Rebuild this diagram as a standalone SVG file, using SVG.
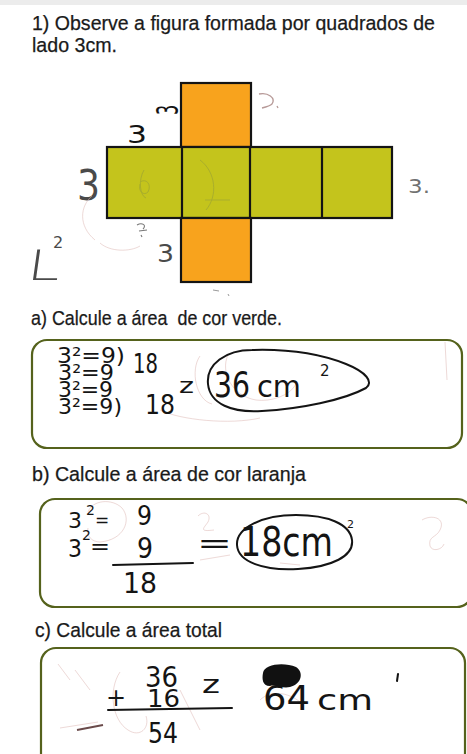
<svg xmlns="http://www.w3.org/2000/svg" width="467" height="754" viewBox="0 0 467 754">
<style>
.q{font-family:"Liberation Sans",Arial,sans-serif;font-size:20.5px;fill:#1a1a1a;stroke:#1a1a1a;stroke-width:0.25}
.h{font-family:"DejaVu Sans","Liberation Sans",sans-serif;fill:#141414}
.hg{font-family:"DejaVu Sans","Liberation Sans",sans-serif;fill:#4a4a4a}
.box{fill:#ffffff;stroke:#55621c;stroke-width:2.2}
.sq{stroke:#141414;stroke-width:2.2}
.or{fill:#f8a31d}
.gr{fill:#c4c41c}
.pk{fill:none;stroke:#dcb3b0;stroke-width:1;opacity:0.5}
.ink{fill:none;stroke:#141414;stroke-width:2;stroke-linecap:round}
</style>
<rect x="0" y="0" width="467" height="754" fill="#ffffff"/>
<rect x="0" y="0" width="467" height="5" fill="#ececec"/>

<g id="title">
<text class="q" x="32" y="30" textLength="403" lengthAdjust="spacingAndGlyphs">1) Observe a figura formada por quadrados de</text>
<text class="q" x="32" y="52" textLength="85" lengthAdjust="spacingAndGlyphs">lado 3cm.</text>
</g>

<g id="figure">
<rect class="sq or" x="181" y="83" width="70" height="64"/>
<rect class="sq gr" x="107" y="147" width="285" height="71"/>
<line class="sq" x1="182" y1="147" x2="182" y2="218"/>
<line class="sq" x1="250" y1="147" x2="250" y2="218"/>
<line class="sq" x1="322" y1="147" x2="322" y2="218"/>
<rect class="sq or" x="181" y="218" width="70" height="64"/>
<path d="M144 170 C138 180 140 196 146 198 M140 182 C146 178 152 184 148 192 C144 196 138 192 140 184" fill="none" stroke="#a9ae2c" stroke-width="1"/>
<path d="M200 160 C216 172 218 196 206 210 M205 200 L230 200" fill="none" stroke="#a9ae2c" stroke-width="1"/>
</g>

<g id="figure-notes">
<text class="h" font-size="20" text-anchor="middle" dominant-baseline="central" transform="translate(168 110) rotate(-90) scale(0.8 1.5)">3</text>
<text class="h" x="127" y="143" font-size="24" textLength="20" lengthAdjust="spacingAndGlyphs">3</text>
<text class="hg" x="77" y="200" font-size="43" textLength="23" lengthAdjust="spacingAndGlyphs">3</text>
<text class="hg" x="408" y="193" font-size="20" textLength="22" lengthAdjust="spacingAndGlyphs" fill-opacity="0.8">3.</text>
<text class="hg" x="157" y="262" font-size="24" textLength="17" lengthAdjust="spacingAndGlyphs">3</text>
<path d="M259 94 C268 92 276 98 272 104 C270 106 266 107 262 108 M277 106 L278 108" fill="none" stroke="#b79a98" stroke-width="1.3"/>
<path d="M137 225 C142 222 147 225 143 229 M139 231 L147 230 M141 235 L142 237" fill="none" stroke="#777" stroke-width="1.1"/>
<text class="hg" x="27" y="280" font-size="42" textLength="33" lengthAdjust="spacingAndGlyphs" font-weight="300" transform="skewX(-8) translate(38 0)">L</text>
<text class="hg" x="53" y="248" font-size="16">2</text>
<path d="M95 240 C78 226 80 206 92 196" class="pk"/>
<path d="M100 243 C110 252 130 252 140 246" class="pk"/>
<path d="M213 290 L219 291 M228 294 L229 296" fill="none" stroke="#999" stroke-width="1"/>
</g>

<g id="part-a">
<text class="q" x="31" y="325" textLength="251" lengthAdjust="spacingAndGlyphs" xml:space="preserve">a) Calcule a área  de cor verde.</text>
<rect class="box" x="32" y="340" width="430" height="108" rx="15"/>
<path d="M200 356 C190 370 196 400 212 404" class="pk"/>
<path d="M228 355 C220 372 232 396 256 400 C270 402 290 396 296 384" class="pk"/>
<path d="M160 410 C180 420 230 425 260 418" class="pk"/>
<path d="M445 342 L447 380" class="pk"/>
<text class="h" font-size="21"><tspan x="57" y="363" textLength="68" lengthAdjust="spacingAndGlyphs">3²=9)</tspan><tspan x="133" y="373" font-size="27" textLength="25" lengthAdjust="spacingAndGlyphs">18</tspan><tspan x="58" y="380" textLength="56" lengthAdjust="spacingAndGlyphs">3²=9</tspan><tspan x="58" y="397" textLength="55" lengthAdjust="spacingAndGlyphs">3²=9</tspan><tspan x="58" y="414" textLength="64" lengthAdjust="spacingAndGlyphs">3²=9)</tspan><tspan x="145" y="414" font-size="27" textLength="30" lengthAdjust="spacingAndGlyphs">18</tspan></text>
<text class="h" x="179" y="393" font-size="22" textLength="15" lengthAdjust="spacingAndGlyphs">z</text>
<path class="ink" d="M252 350 C226 350 206 364 208 384 C210 404 232 413 262 411 C300 409 344 400 366 388 C374 382 366 372 346 364 C318 353 284 349 252 350 Z"/>
<text class="h" font-size="36"><tspan x="214" y="397" textLength="36" lengthAdjust="spacingAndGlyphs">36</tspan><tspan x="257" y="397" font-size="30" textLength="44" lengthAdjust="spacingAndGlyphs">cm</tspan><tspan x="320" y="376" font-size="15">2</tspan></text>
</g>

<g id="part-b">
<text class="q" x="32" y="481" textLength="274" lengthAdjust="spacingAndGlyphs">b) Calcule a área de cor laranja</text>
<rect class="box" x="40" y="499" width="432" height="108" rx="15"/>
<path d="M88 512 C92 500 112 498 122 508 C132 520 124 540 100 542 C92 542 86 536 88 528" class="pk"/>
<path d="M198 516 C204 510 212 514 208 522 C204 528 198 532 214 530" class="pk"/>
<path d="M422 520 C432 514 446 518 440 530 C436 538 428 536 430 546 C432 552 442 550 444 544" class="pk"/>
<path d="M200 560 L230 555 M280 563 L300 565" class="pk"/>
<text class="h" font-size="21"><tspan x="68" y="528" textLength="14" lengthAdjust="spacingAndGlyphs">3</tspan><tspan x="86" y="515" font-size="14">2</tspan><tspan x="95" y="526" font-size="17">=</tspan><tspan x="137" y="525" font-size="26" textLength="15" lengthAdjust="spacingAndGlyphs">9</tspan><tspan x="68" y="557" font-size="24" textLength="14" lengthAdjust="spacingAndGlyphs">3</tspan><tspan x="82" y="540" font-size="14">2</tspan><tspan x="90" y="554" font-size="22" textLength="20" lengthAdjust="spacingAndGlyphs">=</tspan><tspan x="137" y="558" font-size="29" textLength="16" lengthAdjust="spacingAndGlyphs">9</tspan><tspan x="123" y="593" font-size="28" textLength="34" lengthAdjust="spacingAndGlyphs">18</tspan></text>
<path class="ink" d="M113 565 L193 563"/>
<text class="h" x="197" y="553" font-size="28" textLength="35" lengthAdjust="spacingAndGlyphs">=</text>
<path class="ink" d="M296 515 C262 515 236 528 237 545 C238 562 264 571 298 569 C332 567 354 556 352 540 C350 524 328 515 296 515 Z"/>
<text class="h" font-size="40"><tspan x="240" y="556" textLength="93" lengthAdjust="spacingAndGlyphs">18cm</tspan><tspan x="347" y="528" font-size="11">2</tspan></text>
</g>

<g id="part-c">
<text class="q" x="35" y="637" textLength="187" lengthAdjust="spacingAndGlyphs">c) Calcule a área total</text>
<rect class="box" x="41" y="648" width="424" height="120" rx="15"/>
<path d="M58 664 L70 680 M75 670 L90 690" class="pk"/>
<path d="M120 672 C108 690 112 720 128 730 C140 738 150 728 146 716" class="pk"/>
<path d="M180 690 L200 730 M60 728 L98 722" class="pk"/>
<path d="M260 700 C270 690 288 692 300 702" class="pk"/>
<path d="M77 730 L103 725" stroke="#6a4a4a" stroke-width="1.8" fill="none"/>
<text class="h" font-size="28"><tspan x="145" y="687" textLength="33" lengthAdjust="spacingAndGlyphs">36</tspan><tspan x="106" y="706" font-size="24">+</tspan><tspan x="147" y="707" font-size="24" textLength="33" lengthAdjust="spacingAndGlyphs">16</tspan><tspan x="148" y="743" textLength="30" lengthAdjust="spacingAndGlyphs">54</tspan></text>
<text class="h" x="202" y="693" font-size="24" textLength="18" lengthAdjust="spacingAndGlyphs">z</text>
<path class="ink" d="M108 710 L232 708"/>
<text class="h" x="263" y="710" font-size="34" textLength="47" lengthAdjust="spacingAndGlyphs">64</text>
<path d="M263 673 C264 664 284 662 296 667 C304 672 302 684 290 687 C282 689 276 684 270 686 C262 686 262 678 263 673 Z" fill="#111"/>
<text class="h" x="317" y="710" font-size="28" textLength="56" lengthAdjust="spacingAndGlyphs">cm</text>
<path class="ink" d="M398 674 L397 681"/>
</g>
</svg>
